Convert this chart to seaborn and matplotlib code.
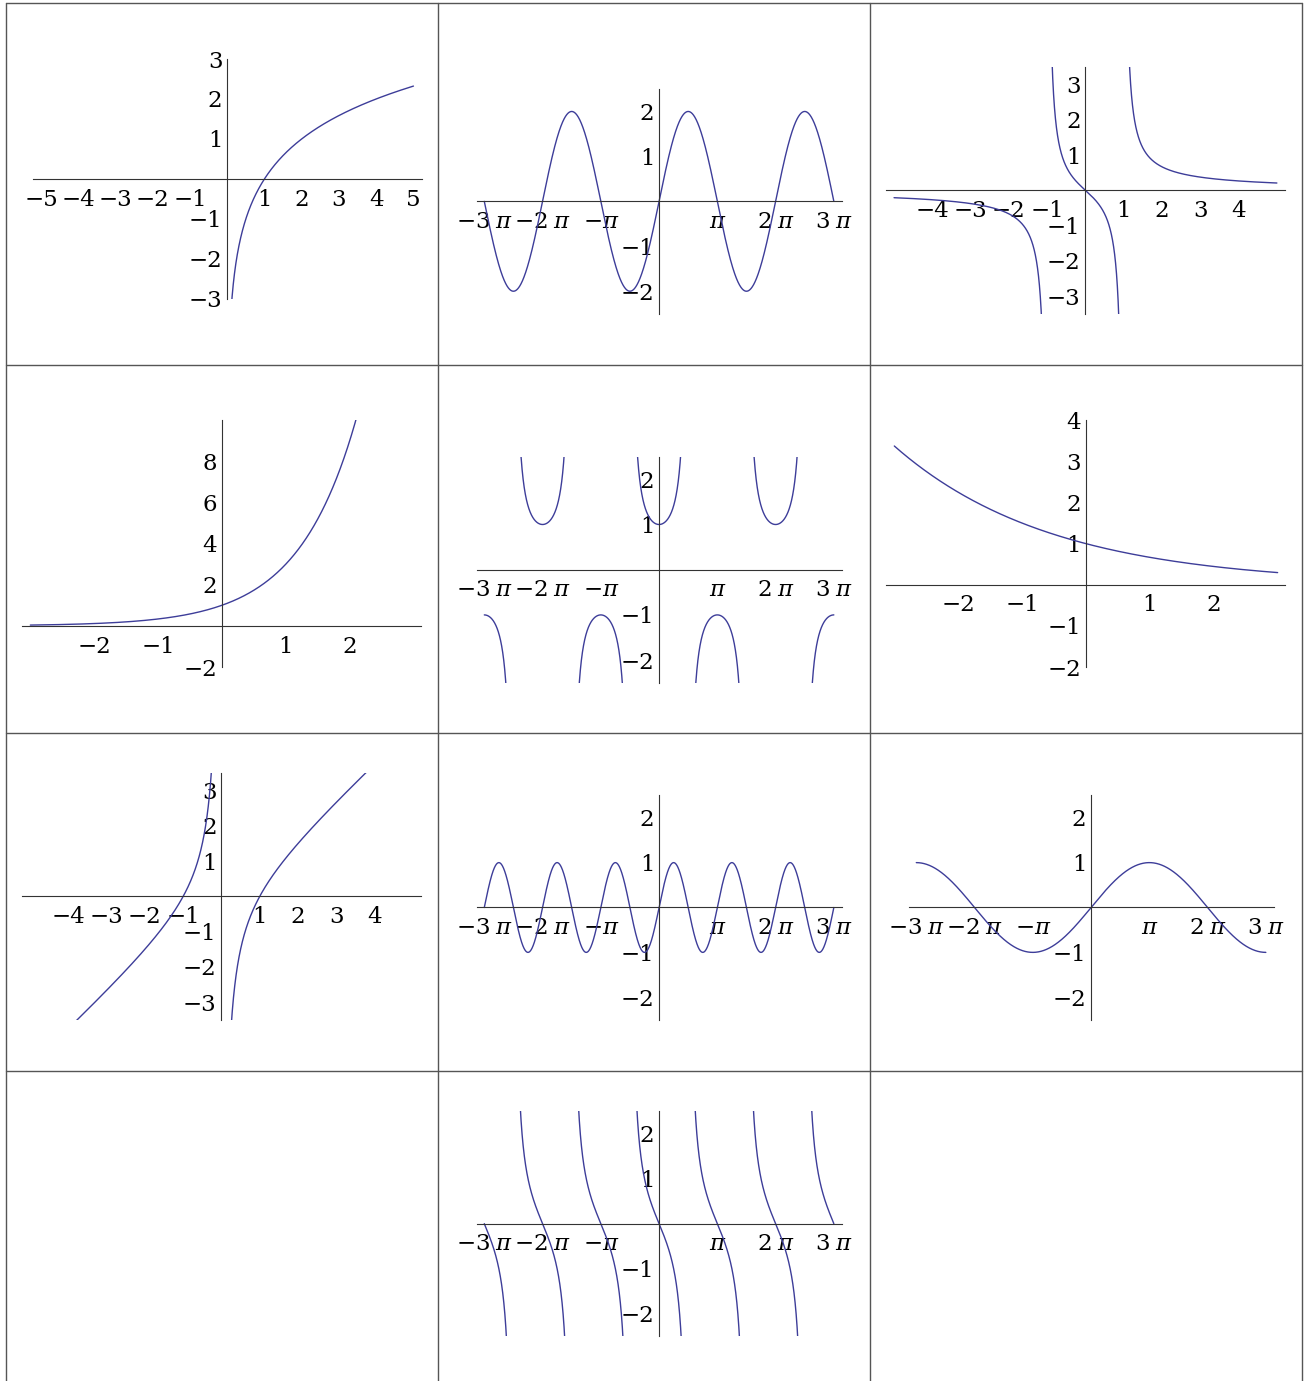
import numpy as np
import pandas as pd
import seaborn as sns
import matplotlib.pyplot as plt
from matplotlib.lines import Line2D

W, H = 1308, 1381
CURVE = '#3d3d99'
AXC = '#333333'
M = '\u2212'
PI = np.pi

# table grid (pixel positions of the cell borders)
col_edges = [6, 438, 870, 1302]
row_edges = [3, 365, 733, 1071]

# tick values / labels
ticks_5 = [-5, -4, -3, -2, -1, 1, 2, 3, 4, 5]
ticks_4 = [-4, -3, -2, -1, 1, 2, 3, 4]
ticks_3 = [-3, -2, -1, 1, 2, 3]
ticks_2 = [-2, -1, 1, 2]
ticks_exp_y = [-2, 2, 4, 6, 8]
ticks_dec_y = [-2, -1, 1, 2, 3, 4]
pi_ticks = [-3 * PI, -2 * PI, -PI, PI, 2 * PI, 3 * PI]
pi_labels = [M + '3$\\;\\pi$', M + '2$\\;\\pi$', M + '$\\pi$', '$\\pi$', '2$\\;\\pi$', '3$\\;\\pi$']

# plot ranges (axis extents) and curve domains
xlim_5 = (-5.21, 5.22)
xlim_3 = (-3.13, 3.12)
xlim_pi = (-3.12 * PI, 3.14 * PI)
half_pi_breaks = [-3 * PI, -2.5 * PI, -1.5 * PI, -0.5 * PI, 0.5 * PI, 1.5 * PI, 2.5 * PI, 3 * PI]

panels = [
    # pixel box (left, right, top, bottom), xlim, ylim, xticks, yticks, function, branch edges
    dict(box=(33.3, 422, 59, 298.7), xlim=(-5.21, 5.23), ylim=(-3, 3),
         xt=ticks_5, yt=ticks_3, f=lambda x: np.log2(x), br=[0, 5]),
    dict(box=(477.3, 842, 89, 313.7), xlim=xlim_pi, ylim=(-2.5, 2.5),
         xt=pi_ticks, yt=ticks_2, f=lambda x: 2 * np.sin(x), br=[-3 * PI, 3 * PI]),
    dict(box=(886, 1285.3, 67, 313.7), xlim=xlim_5, ylim=(-3.5, 3.5),
         xt=ticks_4, yt=ticks_3, f=lambda x: x / (x ** 2 - 1), br=[-5, -1, 1, 5]),
    dict(box=(22, 421.3, 420, 667), xlim=xlim_3, ylim=(-2, 10),
         xt=ticks_2, yt=ticks_exp_y, f=lambda x: 3.0 ** x, br=[-3, 3]),
    dict(box=(477.3, 842, 456.7, 682.7), xlim=xlim_pi, ylim=(-2.5, 2.5),
         xt=pi_ticks, yt=ticks_2, f=lambda x: 1 / np.cos(x), br=half_pi_breaks),
    dict(box=(886, 1285.3, 420.3, 667), xlim=xlim_3, ylim=(-2, 4),
         xt=ticks_2, yt=ticks_dec_y, f=lambda x: (2 / 3) ** x, br=[-3, 3]),
    dict(box=(22, 421.3, 773, 1019.7), xlim=xlim_5, ylim=(-3.5, 3.5),
         xt=ticks_4, yt=ticks_3, f=lambda x: x - 1 / x, br=[-5, 0, 5]),
    dict(box=(477.3, 842, 795.3, 1019.7), xlim=xlim_pi, ylim=(-2.5, 2.5),
         xt=pi_ticks, yt=ticks_2, f=lambda x: np.sin(2 * x), br=[-3 * PI, 3 * PI]),
    dict(box=(909.3, 1274, 795.3, 1019.7), xlim=xlim_pi, ylim=(-2.5, 2.5),
         xt=pi_ticks, yt=ticks_2, f=lambda x: np.sin(x / 2), br=[-3 * PI, 3 * PI]),
    dict(box=(477.3, 842, 1111, 1336.3), xlim=xlim_pi, ylim=(-2.5, 2.5),
         xt=pi_ticks, yt=ticks_2, f=lambda x: -np.tan(x), br=half_pi_breaks),
]

sns.set_style("white")
plt.rcParams['font.family'] = ['DejaVu Serif', 'Liberation Serif']
plt.rcParams['mathtext.fontset'] = 'dejavuserif'
plt.rcParams['font.size'] = 16.5

fig = plt.figure(figsize=(W / 100, H / 100), dpi=100)
fig.patch.set_facecolor('white')

# cell borders
for x in col_edges:
    fig.add_artist(Line2D([x / W, x / W], [0, 1 - row_edges[0] / H], color='#555555', lw=1.0))
for y in row_edges:
    fig.add_artist(Line2D([col_edges[0] / W, col_edges[-1] / W], [1 - y / H, 1 - y / H], color='#555555', lw=1.0))


def int_label(v):
    return (M + str(-v)) if v < 0 else str(v)


for p in panels:
    l, r, t, b = p['box']
    ax = fig.add_axes([l / W, 1 - b / H, (r - l) / W, (b - t) / H])
    ax.set_facecolor('none')

    frames = []
    edges = p['br']
    for i in range(len(edges) - 1):
        eps = 1e-4
        xs = np.linspace(edges[i] + eps, edges[i + 1] - eps, 3000)
        frames.append(pd.DataFrame({'x': xs, 'y': p['f'](xs), 'branch': i}))
    df = pd.concat(frames, ignore_index=True)
    df['y'] = df['y'].clip(-50, 50)

    sns.lineplot(data=df, x='x', y='y', units='branch', estimator=None, sort=False,
                 color=CURVE, lw=1.0, ax=ax)

    ax.set_xlim(*p['xlim'])
    ax.set_ylim(*p['ylim'])
    ax.set_xlabel('')
    ax.set_ylabel('')

    for s in ['top', 'right']:
        ax.spines[s].set_visible(False)
    ax.spines['left'].set_position(('data', 0))
    ax.spines['bottom'].set_position(('data', 0))
    for s in ['left', 'bottom']:
        ax.spines[s].set_color(AXC)
        ax.spines[s].set_linewidth(0.8)

    ax.set_xticks(p['xt'])
    if p['xt'] is pi_ticks:
        ax.set_xticklabels(pi_labels)
    else:
        ax.set_xticklabels([int_label(v) for v in p['xt']])
    ax.set_yticks(p['yt'])
    ax.set_yticklabels([int_label(v) for v in p['yt']])

    ax.tick_params(direction='in', length=3, width=0.8, color=AXC, labelsize=16.5,
                   labelcolor='black')
    ax.tick_params(axis='x', pad=7)
    ax.tick_params(axis='y', pad=3.5)
    ax.grid(False)

fig.savefig('out.png', dpi=100)
